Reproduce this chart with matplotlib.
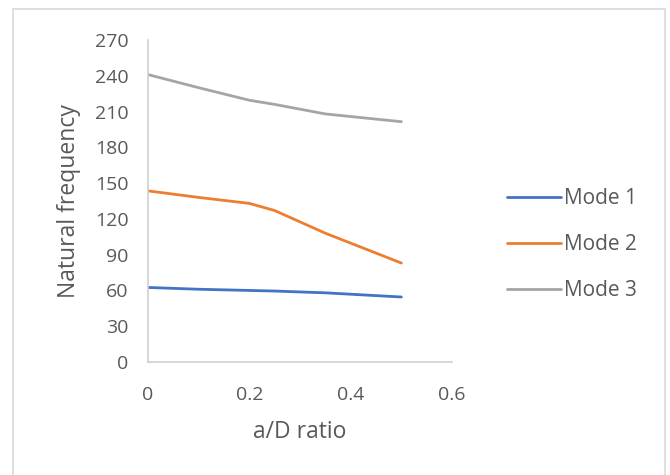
import numpy as np
import matplotlib.pyplot as plt
from matplotlib.patches import Rectangle

# a/D ratio values and natural frequencies
ratio = [0, 0.1, 0.2, 0.25, 0.35, 0.5]
mode1 = [62.5, 61, 60, 59.5, 58, 54.5]
mode2 = [143.5, 138, 133, 127, 108, 83]
mode3 = [241, 230, 219.5, 216, 208, 201.5]
labels = ['Mode 1', 'Mode 2', 'Mode 3']
colors = ['#4472C4', '#ED7D31', '#A5A5A5']

yticks = np.arange(0, 271, 30)
xticks = [0, 0.2, 0.4, 0.6]
xtick_labels = ['0', '0.2', '0.4', '0.6']

plt.rcParams['font.family'] = ['Open Sans', 'DejaVu Sans']

fig = plt.figure(figsize=(6.7, 4.75), dpi=100)
# chart frame (bottom edge lies outside the image)
fig.patches.append(Rectangle((13 / 670, -0.05), 652 / 670, 1.05 - 9 / 475,
                             transform=fig.transFigure, fill=False,
                             edgecolor='#d9d9d9', linewidth=1.2))

ax = fig.add_axes([148 / 670, 1 - 362 / 475, 304 / 670, 322 / 475])

for ys, lab, c in zip([mode1, mode2, mode3], labels, colors):
    ax.plot(ratio, ys, color=c, linewidth=2.0, label=lab,
            solid_capstyle='round', solid_joinstyle='round')

ax.set_xlim(0, 0.6)
ax.set_ylim(0, 270)
ax.set_yticks(yticks)
ax.set_xticks(xticks)
ax.set_xticklabels(xtick_labels)

for s in ['top', 'right']:
    ax.spines[s].set_visible(False)
for s in ['left', 'bottom']:
    ax.spines[s].set_color('#d0d0d0')
    ax.spines[s].set_linewidth(1.2)

ax.tick_params(length=0, labelsize=14, labelcolor='#595959')
ax.tick_params(axis='y', pad=14)
ax.tick_params(axis='x', pad=17)

ax.set_ylabel('Natural frequency', fontsize=16.5, color='#595959', labelpad=10)
ax.set_xlabel('a/D ratio', fontsize=16.5, color='#595959', labelpad=12)

fig.legend(loc='center left', bbox_to_anchor=(507 / 670, 1 - 245 / 475),
           frameon=False, fontsize=15, handlelength=2.6, handletextpad=0.15,
           labelspacing=1.2, borderpad=0, borderaxespad=0,
           labelcolor='#595959')

fig.savefig('out.png', dpi=100)
